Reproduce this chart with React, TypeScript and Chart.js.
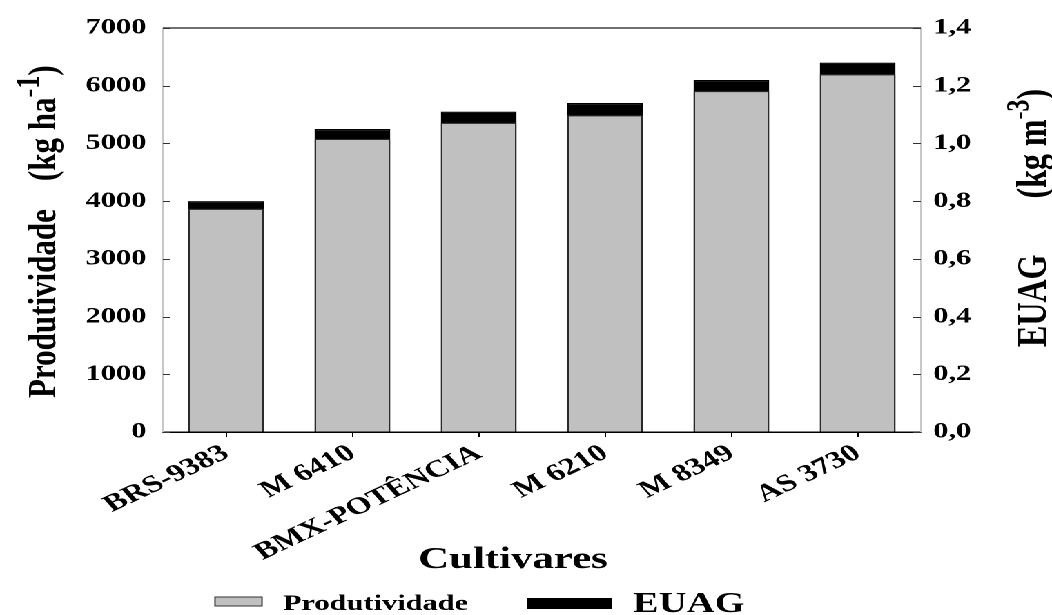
import React, { useEffect, useRef } from "react";
import { Chart, registerables } from "chart.js";

Chart.register(...registerables);

// ---- data ----
const cultivares = ["BRS-9383", "M 6410", "BMX-POTÊNCIA", "M 6210", "M 8349", "AS 3730"];
const produtividade = [3870, 5080, 5360, 5490, 5910, 6200];
const euag = [0.8, 1.05, 1.11, 1.14, 1.22, 1.28];
const prodMax = 7000;
const prodStep = 1000;
const euagMax = 1.4;
const euagStep = 0.2;

// ---- layout ----
const W = 762;
const H = 615;
const S = 1052 / W;
const FONT = '"Liberation Serif", "Times New Roman", serif';

function drawVTitle(
  ctx: CanvasRenderingContext2D,
  xb: number,
  y0: number,
  k: number,
  size: number,
  main: string,
  gap: number,
  unit: string,
  sup: string,
  close: string,
  supScale: number
) {
  ctx.save();
  ctx.translate(xb, y0);
  ctx.scale(k, 1);
  ctx.rotate(-Math.PI / 2);
  ctx.fillStyle = "#000";
  ctx.textAlign = "left";
  ctx.textBaseline = "alphabetic";
  ctx.font = `bold ${size}px ${FONT}`;
  let x = 0;
  ctx.fillText(main, x, 0);
  x += ctx.measureText(main).width + gap;
  ctx.fillText(unit, x, 0);
  x += ctx.measureText(unit).width;
  ctx.font = `bold ${size * supScale}px ${FONT}`;
  ctx.fillText(sup, x, -size * 0.42);
  x += ctx.measureText(sup).width;
  ctx.font = `bold ${size}px ${FONT}`;
  ctx.fillText(close, x, 0);
  ctx.restore();
}

const overlayPlugin = {
  id: "overlay",
  afterDraw(chart: any) {
    const ctx: CanvasRenderingContext2D = chart.ctx;
    const { left, right, top } = chart.chartArea;
    ctx.save();
    // top frame line
    ctx.strokeStyle = "#404040";
    ctx.lineWidth = 1.5;
    ctx.beginPath();
    ctx.moveTo(left, top);
    ctx.lineTo(right, top);
    ctx.stroke();

    // inward ticks
    ctx.strokeStyle = "#333";
    ctx.lineWidth = 1;
    const yS = chart.scales.y;
    yS.ticks.forEach((_t: any, i: number) => {
      const p = Math.round(yS.getPixelForTick(i)) + 0.5;
      ctx.beginPath();
      ctx.moveTo(left, p);
      ctx.lineTo(left + 5, p);
      ctx.stroke();
    });
    const y1S = chart.scales.y1;
    y1S.ticks.forEach((_t: any, i: number) => {
      const p = Math.round(y1S.getPixelForTick(i)) + 0.5;
      ctx.beginPath();
      ctx.moveTo(right, p);
      ctx.lineTo(right - 5.8, p);
      ctx.stroke();
    });

    // axis titles
    drawVTitle(ctx, 55 / S, 398, 0.92, 31, "Produtividade", 28, "(kg ha", "-1", ")", 0.85);
    drawVTitle(ctx, 1046 / S, 347, 0.95, 32, "EUAG", 56, "(kg m", "-3", ")", 0.75);

    ctx.fillStyle = "#000";
    ctx.textAlign = "center";
    ctx.textBaseline = "alphabetic";
    ctx.font = `bold 31px ${FONT}`;
    ctx.fillText("Cultivares", 513 / S, 568);

    // legend
    const ds = chart.data.datasets;
    ctx.fillStyle = ds[0].backgroundColor;
    ctx.fillRect(215 / S, 597, 47 / S, 9);
    ctx.strokeStyle = "#333";
    ctx.lineWidth = 1;
    ctx.strokeRect(215 / S, 597, 47 / S, 9);
    ctx.fillStyle = "#000";
    ctx.textAlign = "left";
    ctx.font = `bold 22px ${FONT}`;
    ctx.fillText(ds[0].label, 283 / S, 610);

    ctx.fillStyle = ds[1].backgroundColor;
    ctx.fillRect(527 / S, 598, 85 / S, 11);
    ctx.fillStyle = "#000";
    ctx.font = `bold 28px ${FONT}`;
    ctx.fillText(ds[1].label, 633 / S, 612);
    ctx.restore();
  },
};

export default function App() {
  const ref = useRef<HTMLCanvasElement | null>(null);

  useEffect(() => {
    if (!ref.current) return;
    const chart = new Chart(ref.current, {
      type: "bar",
      data: {
        labels: cultivares,
        datasets: [
          {
            label: "Produtividade",
            data: produtividade,
            yAxisID: "y",
            backgroundColor: "#c0c0c0",
            borderColor: "#2a2a2a",
            borderWidth: 1.2,
            barPercentage: 0.6,
            categoryPercentage: 1,
          },
          {
            label: "EUAG",
            data: euag,
            yAxisID: "y1",
            backgroundColor: "#000000",
            borderColor: "#000000",
            borderWidth: 1.2,
            barPercentage: 0.6,
            categoryPercentage: 1,
          },
        ],
      },
      options: {
        responsive: false,
        animation: false,
        devicePixelRatio: 2,
        layout: { padding: { top: 28, left: 0, right: 0, bottom: 0 } },
        plugins: {
          legend: { display: false },
          tooltip: { enabled: false },
        },
        scales: {
          x: {
            type: "category",
            stacked: true,
            offset: true,
            grid: {
              display: true,
              drawOnChartArea: false,
              drawTicks: true,
              tickLength: 5,
              tickColor: "#000",
              offset: false,
            },
            border: { display: true, color: "#000", width: 1.5 },
            ticks: {
              color: "#000",
              font: { family: FONT, size: 24, weight: "bold" },
              minRotation: 33,
              maxRotation: 33,
              padding: 2,
              autoSkip: false,
            },
            afterFit: (s: any) => {
              s.height = 183;
            },
          },
          y: {
            position: "left",
            min: 0,
            max: prodMax,
            grid: { display: true, drawOnChartArea: false, drawTicks: false },
            border: { display: true, color: "#c8c8c8", width: 1.5 },
            ticks: {
              stepSize: prodStep,
              padding: 12,
              color: "#000",
              font: { family: FONT, size: 22, weight: "bold" },
              callback: (v: any) => String(v),
            },
            afterFit: (s: any) => {
              s.width = 118;
            },
          },
          y1: {
            position: "right",
            min: 0,
            max: euagMax,
            grid: { display: true, drawOnChartArea: false, drawTicks: false },
            border: { display: true, color: "#c8c8c8", width: 1.5 },
            ticks: {
              stepSize: euagStep,
              padding: 9,
              color: "#000",
              font: { family: FONT, size: 22, weight: "bold" },
              callback: (v: any) => Number(v).toFixed(1).replace(".", ","),
            },
            afterFit: (s: any) => {
              s.width = W - 667;
            },
          },
        },
      } as any,
      plugins: [overlayPlugin],
    });
    return () => chart.destroy();
  }, []);

  return (
    <div
      style={{
        position: "absolute",
        left: 0,
        top: 0,
        width: W,
        height: H,
        transform: `scaleX(${S})`,
        transformOrigin: "0 0",
        background: "#fff",
      }}
    >
      <canvas ref={ref} width={W} height={H} style={{ width: W, height: H, display: "block" }} />
    </div>
  );
}
